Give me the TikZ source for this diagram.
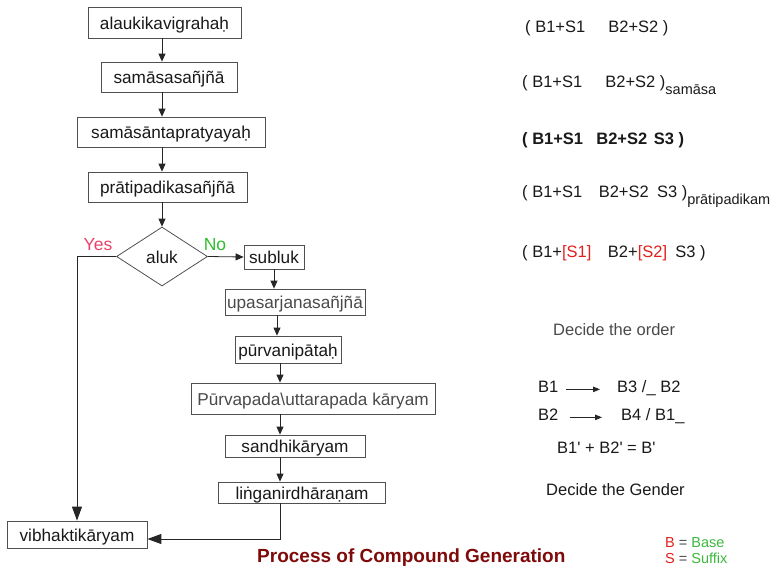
\documentclass[tikz,border=0pt]{standalone}
\usepackage{fontspec}
\setmainfont{Liberation Sans}
\usetikzlibrary{arrows.meta,shapes.geometric}
\definecolor{kline}{HTML}{505050}
\definecolor{kgray}{HTML}{4A4A4A}
\definecolor{kyes}{HTML}{E8436A}
\definecolor{kno}{HTML}{2DBE2D}
\definecolor{kred}{HTML}{E0201C}
\definecolor{kgreen}{HTML}{3CB83C}
\definecolor{ktitle}{HTML}{7F0A0A}
\newcommand{\lowsub}[1]{\raisebox{-7pt}{\fontsize{14.5}{16}\selectfont #1}}
\tikzset{
  box/.style={draw=kline,fill=white,line width=0.8pt,inner sep=0pt,align=center,text height=13pt,text depth=0pt,font=\fontsize{17.2}{20}\selectfont,text=black!90},
  dia/.style={diamond,draw=kline,line width=0.8pt,inner sep=0pt,minimum width=91pt,minimum height=59pt,text height=13pt,text depth=0pt,font=\fontsize{17.2}{20}\selectfont,text=black!90},
  arr/.style={-{Triangle[length=8pt,width=7pt]},line width=0.8pt,draw=black!85},
  barr/.style={-{Triangle[length=14pt,width=10pt]},line width=1pt,draw=black!85},
  sarr/.style={-{Triangle[length=7pt,width=5.5pt]},line width=0.9pt,draw=black!85},
  txt/.style={anchor=base west,inner sep=0pt,font=\fontsize{16.5}{19}\selectfont,text=black!90},
}

\begin{document}
\begin{tikzpicture}[x=1pt,y=-1pt]
  \useasboundingbox (0,0) rectangle (782,568);
  % left column
  \node[box,minimum width=153pt,minimum height=31pt] (vig) at (164.5,22.5) {alaukikavigrahaḥ};
  \node[box,minimum width=136pt,minimum height=30pt] (sam) at (169,77) {samāsasañjñā};
  \node[box,minimum width=188pt,minimum height=30pt] (pra) at (171,132) {samāsāntapratyayaḥ};
  \node[box,minimum width=159pt,minimum height=30pt] (pad) at (167.5,187) {prātipadikasañjñā};
  \node[dia] (aluk) at (162,256.5) {aluk};
  \draw[arr] (vig.south -| aluk.north) -- (sam.north -| aluk.north);
  \draw[arr] (sam.south -| aluk.north) -- (pra.north -| aluk.north);
  \draw[arr] (pra.south -| aluk.north) -- (pad.north -| aluk.north);
  \draw[arr] (pad.south -| aluk.north) -- (aluk.north);
  \node[font=\fontsize{17.5}{20}\selectfont,text=kyes] (yes) at (98,245) {Yes};
  \node[font=\fontsize{17.5}{20}\selectfont,text=kno] (no) at (215,245) {No};
  % right column
  \coordinate (rc) at (280,0);
  \node[box,minimum width=60pt,minimum height=24pt] (sub) at (274,257) {subluk};
  \node[box,minimum width=140pt,minimum height=26pt,text=kgray] (upa) at (295,302) {upasarjanasañjñā};
  \node[box,minimum width=106pt,minimum height=27pt] (pur) at (288,349.5) {pūrvanipātaḥ};
  \node[box,minimum width=244pt,minimum height=31pt,text=kgray] (kar) at (313,398.5) {Pūrvapada\textbackslash uttarapada kāryam};
  \node[box,minimum width=140pt,minimum height=22pt] (san) at (295,446) {sandhikāryam};
  \node[box,minimum width=167pt,minimum height=21pt] (lin) at (302,492.5) {liṅganirdhāraṇam};
  \node[box,minimum width=140pt,minimum height=27pt] (vib) at (77,534.5) {vibhaktikāryam};
  \draw[arr] (aluk.east) -- (sub.west);
  \draw[arr] (sub.south) -- (upa.north -| sub.south);
  \draw[arr] ([xshift=3pt]upa.south -| sub.south) -- ([xshift=3pt]pur.north -| sub.south);
  \draw[arr] (pur.south -| rc) -- (kar.north -| rc);
  \draw[arr] (kar.south -| rc) -- (san.north -| rc);
  \draw[arr] (san.south -| rc) -- (lin.north -| rc);
  \draw[barr] (aluk.west) -| (vib.north);
  \draw[barr] (lin.south -| rc) |- ([yshift=-4.5pt]vib.east);
  % steps of the string
  \node[txt] (r1) at (525,32) {( B1+S1\hspace{1.4em}B2+S2 )};
  \node[txt] (r2) at (522,87) {( B1+S1\hspace{1.4em}B2+S2 )\lowsub{samāsa}};
  \node[txt,font=\fontsize{16.5}{19}\selectfont\bfseries] (r3) at (522,144) {( B1+S1\hspace{0.8em}B2+S2\hspace{0.4em}S3 )};
  \node[txt] (r4) at (522,197) {( B1+S1\hspace{1em}B2+S2\hspace{0.5em}S3 )\lowsub{prātipadikam}};
  \node[txt] (r5) at (522,257) {( B1+\textcolor{kred}{[S1]}\hspace{1em}B2+\textcolor{kred}{[S2]}\hspace{0.5em}S3 )};
  \node[txt,text=kgray] (ord) at (553,335) {Decide the order};
  \node[txt] (b1) at (538,392) {B1};
  \node[txt] (b3) at (617,392) {B3 /\_ B2};
  \node[txt] (b2) at (538,420) {B2};
  \node[txt] (b4) at (621,420) {B4 / B1\_};
  \draw[sarr,shorten <=7pt,shorten >=17pt] (b1.mid east) -- (b3.mid west);
  \draw[sarr,shorten <=11pt,shorten >=19pt] (b2.mid east) -- (b4.mid west);
  \node[txt] (bb) at (557,453) {B1\textquotesingle{} + B2\textquotesingle{} = B\textquotesingle};
  \node[txt] (gen) at (546,495) {Decide the Gender};
  % legend + title
  \node[txt,font=\fontsize{14.5}{17}\selectfont,text=kgray] (lb) at (665,547) {\textcolor{kred}{B} = \textcolor{kgreen}{Base}};
  \node[txt,font=\fontsize{14.5}{17}\selectfont,text=kgray] (ls) at (665,563) {\textcolor{kred}{S} = \textcolor{kgreen}{Suffix}};
  \node[txt,font=\fontsize{19}{22}\selectfont\bfseries,text=ktitle] (title) at (257,562.5) {Process of Compound Generation};
\end{tikzpicture}
\end{document}
